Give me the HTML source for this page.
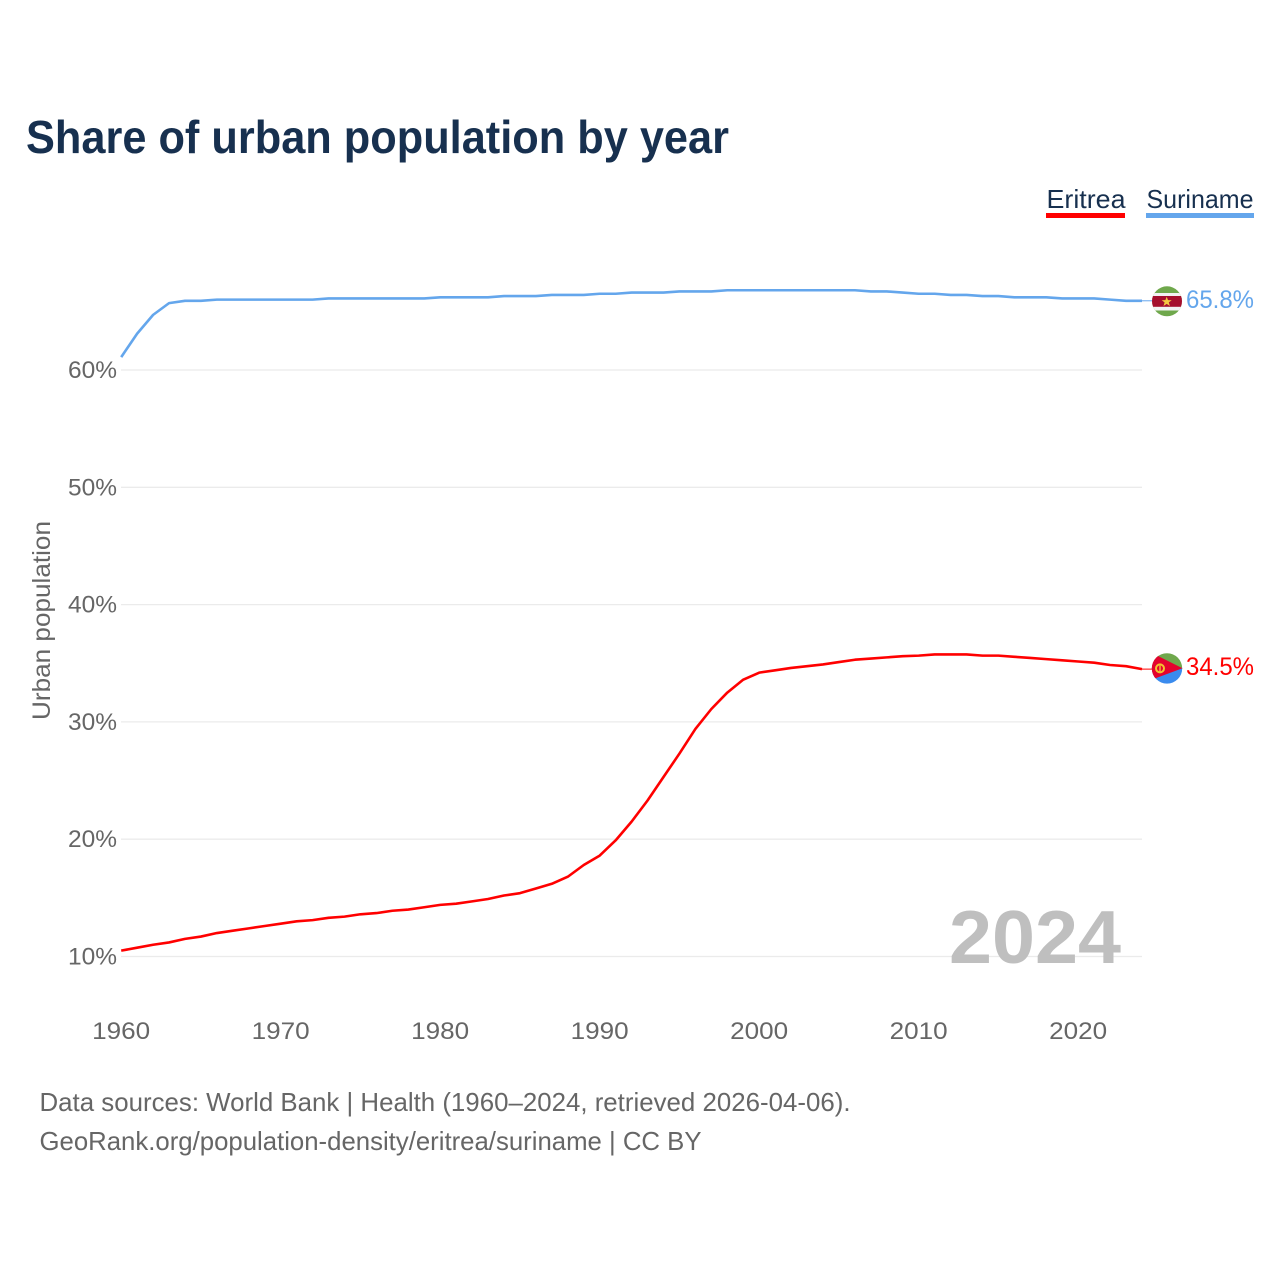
<!DOCTYPE html>
<html>
<head>
<meta charset="utf-8">
<title>Share of urban population by year</title>
<style>
html,body{margin:0;padding:0;background:#fff;width:1280px;height:1280px;overflow:hidden}
svg{display:block}
text{font-family:"Liberation Sans",sans-serif}
</style>
</head>
<body>
<svg id="chart" width="1280" height="1280" viewBox="0 0 1280 1280" xmlns="http://www.w3.org/2000/svg">
  <rect width="1280" height="1280" fill="#fff"/>
  <text x="26" y="153" font-size="46" font-weight="700" fill="#17304f" textLength="703" lengthAdjust="spacingAndGlyphs">Share of urban population by year</text>

  <g>
    <text x="1046.5" y="208" font-size="26" fill="#17304f" textLength="79" lengthAdjust="spacingAndGlyphs">Eritrea</text>
    <rect x="1046" y="213" width="79" height="5" fill="#ff0000"/>
  </g>
  <g>
    <text x="1146.5" y="208" font-size="26" fill="#17304f" textLength="107" lengthAdjust="spacingAndGlyphs">Suriname</text>
    <rect x="1146" y="213" width="108" height="5" fill="#64a6ec"/>
  </g>

  <g id="grid"></g>
  <g id="yticks"></g>
  <g id="xticks"></g>

  <text transform="translate(50,720) rotate(-90)" x="0" y="0" font-size="25" fill="#666" textLength="199" lengthAdjust="spacingAndGlyphs">Urban population</text>

  <text x="949" y="963" font-size="75" font-weight="700" fill="#bfbfbf" textLength="172" lengthAdjust="spacingAndGlyphs">2024</text>

  <g id="series"></g>

  <defs>
    <clipPath id="clip-sr"><circle cx="1167" cy="301.3" r="15"/></clipPath>
    <clipPath id="clip-er"><circle cx="1167" cy="668.4" r="15.2"/></clipPath>
  </defs>
  <g clip-path="url(#clip-sr)">
    <rect x="1152" y="286" width="30" height="31" fill="#6fa84c"/>
    <rect x="1152" y="293" width="30" height="17.5" fill="#f2f2f2"/>
    <rect x="1152" y="296" width="30" height="10.8" fill="#a50f2d"/>
    <polygon points="1166.7,296.8 1168,300.1 1171.7,300.2 1168.8,302.4 1169.9,306 1166.7,303.9 1163.5,306 1164.6,302.4 1161.7,300.2 1165.4,300.1" fill="#f5c842"/>
  </g>
  <g clip-path="url(#clip-er)">
    <rect x="1151" y="652" width="32" height="17" fill="#6fa84c"/>
    <rect x="1151" y="668" width="32" height="17" fill="#3a8bee"/>
    <polygon points="1182.5,668.3 1150,652 1150,680.3" fill="#e4032e"/>
    <circle cx="1160" cy="668.4" r="4" fill="none" stroke="#f2c230" stroke-width="2"/>
    <line x1="1160" y1="665.5" x2="1160" y2="671.5" stroke="#f2c230" stroke-width="1.4"/>
  </g>

  <text id="label-sr" x="1186" y="308" font-size="25" fill="#64a6ec" textLength="68" lengthAdjust="spacingAndGlyphs">65.8%</text>
  <text id="label-er" x="1186" y="675" font-size="25" fill="#ff0000" textLength="68" lengthAdjust="spacingAndGlyphs">34.5%</text>

  <text x="39.5" y="1111" font-size="26" fill="#666" textLength="811" lengthAdjust="spacingAndGlyphs">Data sources: World Bank | Health (1960–2024, retrieved 2026-04-06).</text>
  <text x="39.5" y="1150" font-size="26" fill="#666" textLength="662" lengthAdjust="spacingAndGlyphs">GeoRank.org/population-density/eritrea/suriname | CC BY</text>
</svg>
<script>
var firstYear = 1960;
var yTickValues = [10, 20, 30, 40, 50, 60];
var xTickValues = [1960, 1970, 1980, 1990, 2000, 2010, 2020];
var eritreaValues = [
  10.5, 10.75, 11.0, 11.2, 11.5, 11.7, 12.0, 12.2, 12.4, 12.6,
  12.8, 13.0, 13.1, 13.3, 13.4, 13.6, 13.7, 13.9, 14.0, 14.2,
  14.4, 14.5, 14.7, 14.9, 15.2, 15.4, 15.8, 16.2, 16.8, 17.8,
  18.6, 19.9, 21.5, 23.3, 25.3, 27.3, 29.4, 31.1, 32.5, 33.6,
  34.2, 34.4, 34.6, 34.75, 34.9, 35.1, 35.3, 35.4, 35.5, 35.6,
  35.65, 35.75, 35.75, 35.75, 35.65, 35.65, 35.55, 35.45, 35.35, 35.25,
  35.15, 35.05, 34.85, 34.75, 34.5
];
var surinameValues = [
  61.1, 63.1, 64.7, 65.7, 65.9, 65.9, 66.0, 66.0, 66.0, 66.0,
  66.0, 66.0, 66.0, 66.1, 66.1, 66.1, 66.1, 66.1, 66.1, 66.1,
  66.2, 66.2, 66.2, 66.2, 66.3, 66.3, 66.3, 66.4, 66.4, 66.4,
  66.5, 66.5, 66.6, 66.6, 66.6, 66.7, 66.7, 66.7, 66.8, 66.8,
  66.8, 66.8, 66.8, 66.8, 66.8, 66.8, 66.8, 66.7, 66.7, 66.6,
  66.5, 66.5, 66.4, 66.4, 66.3, 66.3, 66.2, 66.2, 66.2, 66.1,
  66.1, 66.1, 66.0, 65.9, 65.9
];

var NS = 'http://www.w3.org/2000/svg';
function xScale(year) { return 121.2 + (year - 1960) * 15.95; }
function yScale(value) { return 956.5 - (value - 10) * 11.73; }
function linePath(values) {
  var d = '';
  for (var i = 0; i < values.length; i++) {
    d += (i ? 'L' : 'M') + xScale(firstYear + i).toFixed(2) + ' ' + yScale(values[i]).toFixed(2);
  }
  return d;
}

var gridGroup = document.getElementById('grid');
var yGroup = document.getElementById('yticks');
var xGroup = document.getElementById('xticks');
var seriesGroup = document.getElementById('series');

yTickValues.forEach(function (v) {
  var line = document.createElementNS(NS, 'line');
  
  
  line.setAttribute('x1', 121);
  line.setAttribute('x2', 1142);
  line.setAttribute('y1', yScale(v));
  line.setAttribute('y2', yScale(v));
  line.setAttribute('stroke', '#ebebeb');
  line.setAttribute('stroke-width', '1.3');
  gridGroup.appendChild(line);

  var t = document.createElementNS(NS, 'text');
  
  
  t.setAttribute('x', 117);
  t.setAttribute('y', yScale(v) + 8);
  t.setAttribute('text-anchor', 'end');
  t.setAttribute('font-size', '24');
  t.setAttribute('fill', '#666');
  t.setAttribute('textLength', '49');
  t.setAttribute('lengthAdjust', 'spacingAndGlyphs');
  t.textContent = v + '%';
  yGroup.appendChild(t);
});

xTickValues.forEach(function (year) {
  var t = document.createElementNS(NS, 'text');
  
  
  t.setAttribute('x', xScale(year));
  t.setAttribute('y', 1039);
  t.setAttribute('text-anchor', 'middle');
  t.setAttribute('font-size', '24');
  t.setAttribute('fill', '#666');
  t.setAttribute('textLength', '58');
  t.setAttribute('lengthAdjust', 'spacingAndGlyphs');
  t.textContent = year;
  xGroup.appendChild(t);
});

function addSeries(values, color, name) {
  var p = document.createElementNS(NS, 'path');
  
  
  p.setAttribute('d', linePath(values));
  p.setAttribute('fill', 'none');
  p.setAttribute('stroke', color);
  p.setAttribute('stroke-width', '2.6');
  p.setAttribute('stroke-linejoin', 'round');
  seriesGroup.appendChild(p);

  var lastY = yScale(values[values.length - 1]);
  var c = document.createElementNS(NS, 'line');
  
  
  c.setAttribute('x1', xScale(firstYear + values.length - 1));
  c.setAttribute('x2', 1153);
  c.setAttribute('y1', lastY);
  c.setAttribute('y2', lastY);
  c.setAttribute('stroke', color);
  c.setAttribute('stroke-width', '1');
  seriesGroup.appendChild(c);
}
addSeries(surinameValues, '#64a6ec', 'line-suriname');
addSeries(eritreaValues, '#ff0000', 'line-eritrea');
</script>
</body>
</html>
